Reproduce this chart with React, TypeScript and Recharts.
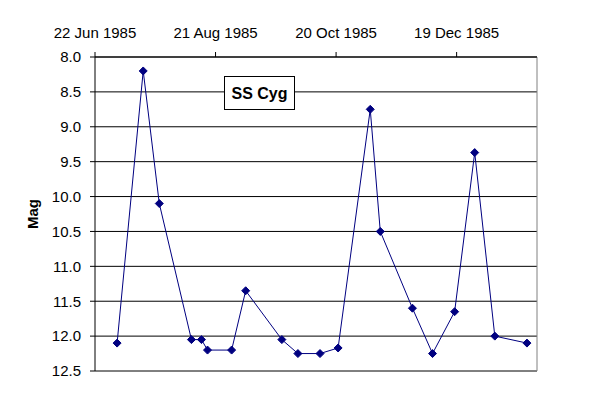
import { LineChart, Line, XAxis, YAxis, CartesianGrid, ReferenceLine } from 'recharts';

// days counted from 22 Jun 1985
const days = [11, 24, 32, 48, 53, 56, 68, 75, 93, 101, 112, 121, 137, 142, 158, 168, 179, 189, 199, 215];
const mags = [12.1, 8.2, 10.1, 12.05, 12.05, 12.2, 12.2, 11.35, 12.05, 12.25, 12.25, 12.17, 8.75, 10.5, 11.6, 12.25, 11.65, 9.37, 12.0, 12.1];

const xTicks = [0, 60, 120, 180];
const xTickLabels = ['22 Jun 1985', '21 Aug 1985', '20 Oct 1985', '19 Dec 1985'];
const yTicks = [8, 8.5, 9, 9.5, 10, 10.5, 11, 11.5, 12, 12.5];

const data = days.map((d, i) => ({ day: d, mag: mags[i] }));

const font = '"Liberation Sans", Arial, sans-serif';
const navy = '#000080';

function Diamond(props: any) {
  const { cx, cy } = props;
  if (cx == null || cy == null) return null;
  const r = 4;
  return (
    <polygon
      points={`${cx},${cy - r} ${cx + r},${cy} ${cx},${cy + r} ${cx - r},${cy}`}
      fill={navy}
      stroke={navy}
    />
  );
}

export default function App() {
  return (
    <div style={{ position: 'absolute', left: 0, top: 0, width: 600, height: 400, background: '#fff', fontFamily: font }}>
      <LineChart
        width={600}
        height={400}
        data={data}
        margin={{ top: 27, right: 63, bottom: 29, left: 35 }}
      >
        <CartesianGrid vertical={false} stroke="#000" strokeOpacity={1} />
        <XAxis
          dataKey="day"
          type="number"
          orientation="top"
          domain={[0, 220]}
          ticks={xTicks}
          tickFormatter={(v: number) => xTickLabels[xTicks.indexOf(v)]}
          height={30}
          tickSize={5}
          tickMargin={14}
          stroke="#000"
          tick={{ fill: '#000', fontSize: 15, fontFamily: font }}
        />
        <YAxis
          type="number"
          reversed
          domain={[8, 12.5]}
          ticks={yTicks}
          tickFormatter={(v: number) => v.toFixed(1)}
          width={60}
          tickSize={5}
          tickMargin={9}
          stroke="#000"
          tick={{ fill: '#000', fontSize: 15, fontFamily: font }}
        />
        <ReferenceLine y={12.5} stroke="#808080" />
        <ReferenceLine x={220} stroke="#808080" />
        <Line
          dataKey="mag"
          type="linear"
          stroke={navy}
          strokeWidth={1}
          dot={<Diamond />}
          activeDot={false}
          isAnimationActive={false}
        />
      </LineChart>
      <svg width={600} height={400} style={{ position: 'absolute', left: 0, top: 0, pointerEvents: 'none' }}>
        <text
          x={32}
          y={214}
          transform="rotate(-90 32 214)"
          textAnchor="middle"
          dominantBaseline="central"
          fontFamily={font}
          fontWeight="bold"
          fontSize={15}
          fill="#000"
        >
          Mag
        </text>
        <rect x={224.5} y={76.5} width={70} height={33} fill="#fff" stroke="#000" strokeWidth={1} />
        <text
          x={259.5}
          y={93}
          textAnchor="middle"
          dominantBaseline="central"
          fontFamily={font}
          fontWeight="bold"
          fontSize={16}
          fill="#000"
        >
          SS Cyg
        </text>
      </svg>
    </div>
  );
}
